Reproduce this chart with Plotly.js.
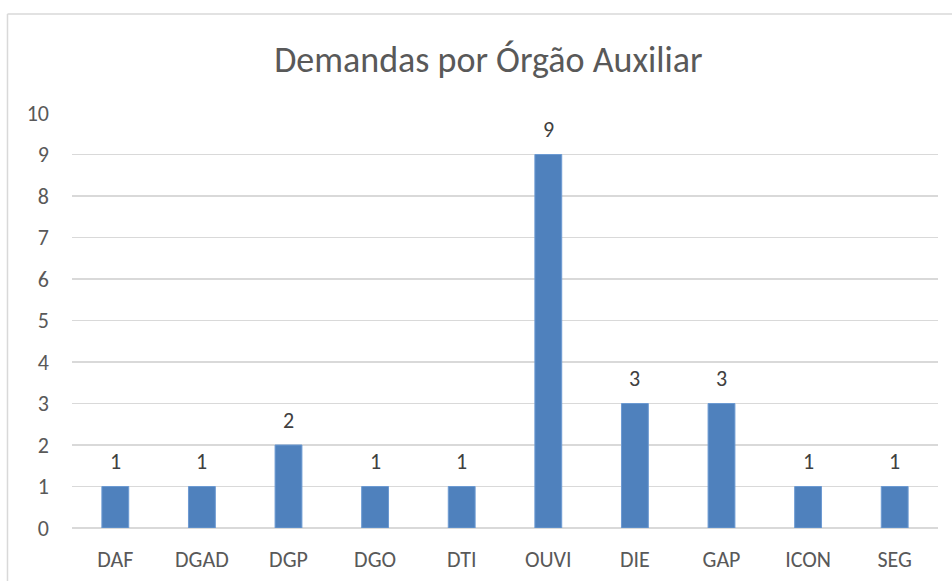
<!DOCTYPE html>
<html>
<head>
<meta charset="utf-8">
<script src="https://cdn.plot.ly/plotly-3.0.1.min.js"></script>
<style>html,body{margin:0;padding:0;background:#fff;}#chart{width:952px;height:581px;}</style>
</head>
<body>
<div id="chart"></div>
<script>
const categories = ["DAF", "DGAD", "DGP", "DGO", "DTI", "OUVI", "DIE", "GAP", "ICON", "SEG"];
const values = [1, 1, 2, 1, 1, 9, 3, 3, 1, 1];
const yTicks = [0, 1, 2, 3, 4, 5, 6, 7, 8, 9, 10];
const chartTitle = "Demandas por Órgão Auxiliar";

const font = "Calibri, Carlito, 'Open Sans', 'Noto Sans', sans-serif";

const trace = {
  type: "bar",
  x: categories,
  y: values,
  marker: {color: "#4F81BD", line: {color: "#6C9AD2", width: 1}},
  hoverinfo: "x+y"
};

const labels = categories.map((c, i) => ({
  x: c, y: values[i], xref: "x", yref: "y",
  text: String(values[i]), showarrow: false,
  yanchor: "middle", yshift: 25,
  font: {family: font, size: 22, color: "#404040"}
}));

const layout = {
  width: 952,
  height: 581,
  margin: {l: 72, r: 14, t: 113, b: 53},
  paper_bgcolor: "#ffffff",
  plot_bgcolor: "#ffffff",
  bargap: 0.69,
  showlegend: false,
  title: {
    text: chartTitle,
    font: {family: font, size: 36, color: "#595959"},
    x: 0.513, xanchor: "center",
    y: 0.897, yanchor: "middle"
  },
  xaxis: {
    type: "category",
    showgrid: false,
    showline: false,
    zeroline: false,
    ticks: "",
    tickfont: {family: font, size: 22, color: "#595959"},
    ticklabelstandoff: 16
  },
  yaxis: {
    range: [0, 10],
    tickvals: yTicks,
    ticktext: yTicks.map(String),
    showgrid: true,
    gridcolor: "#D9D9D9",
    gridwidth: 1.5,
    zeroline: true,
    zerolinecolor: "#D9D9D9",
    zerolinewidth: 1.5,
    showline: false,
    ticks: "",
    tickfont: {family: font, size: 22, color: "#595959"},
    ticklabelstandoff: 22,
    fixedrange: true
  },
  annotations: labels,
  shapes: [
    {type: "line", xref: "paper", yref: "paper", x0: -0.0745, x1: -0.0745, y0: 1.2386, y1: -0.2, line: {color: "#D9D9D9", width: 1.5}},
    {type: "line", xref: "paper", yref: "paper", x0: -0.0745, x1: 1.1, y0: 1.2386, y1: 1.2386, line: {color: "#D9D9D9", width: 1.5}}
  ]
};

Plotly.newPlot("chart", [trace], layout, {displayModeBar: false, staticPlot: true});
</script>
</body>
</html>
